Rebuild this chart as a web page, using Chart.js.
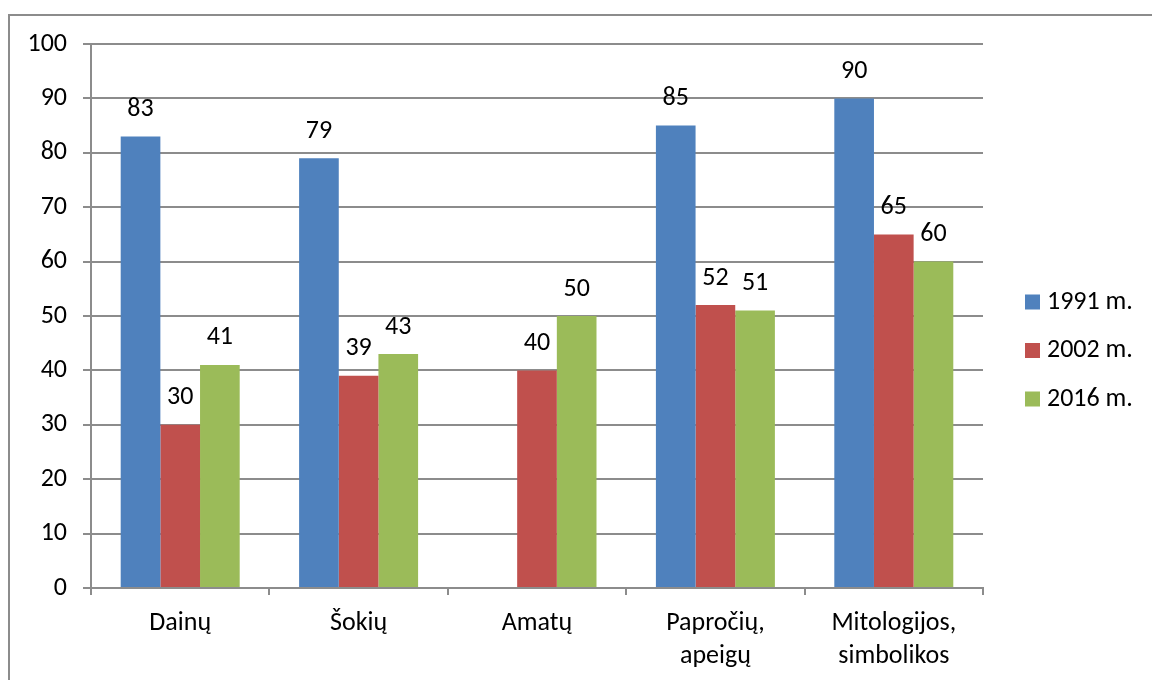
<!DOCTYPE html>
<html>
<head>
<meta charset="utf-8">
<script src="https://cdn.jsdelivr.net/npm/chart.js@4.4.1/dist/chart.umd.min.js"></script>
<style>
  html, body { margin: 0; padding: 0; background: #fff; }
  #wrap { width: 1152px; height: 680px; position: relative; }
</style>
</head>
<body>
<div id="wrap"><canvas id="grafikas"></canvas></div>
<script>
const kategorijos = ['Dainų', 'Šokių', 'Amatų', ['Papročių,', 'apeigų'], ['Mitologijos,', 'simbolikos']];
const metai1991 = [83, 79, null, 85, 90];
const metai2002 = [30, 39, 40, 52, 65];
const metai2016 = [41, 43, 50, 51, 60];
const serijos = ['1991 m.', '2002 m.', '2016 m.'];
const spalvos = ['#4F81BD', '#C0504D', '#9BBB59'];

const SRIFTAS = 'Carlito, "Open Sans", sans-serif';
const DYDIS = 26;

// reikšmės virš stulpelių
const etiketes = {
    id: 'etiketes',
    afterDatasetsDraw(chart) {
        const ctx = chart.ctx;
        ctx.save();
        ctx.font = DYDIS + 'px ' + SRIFTAS;
        ctx.fillStyle = '#000';
        ctx.textAlign = 'center';
        ctx.textBaseline = 'middle';
        chart.data.datasets.forEach((ds, i) => {
            chart.getDatasetMeta(i).data.forEach((bar, j) => {
                if (ds.data[j] == null) return;
                ctx.fillText(ds.data[j], bar.x, bar.y - 27);
            });
        });
        ctx.restore();
    }
};

// rėmelis ir legenda dešinėje
const remelis = {
    id: 'remelis',
    afterDraw(chart) {
        const ctx = chart.ctx;
        ctx.save();
        ctx.strokeStyle = '#8c8c8c';
        ctx.lineWidth = 2;
        ctx.strokeRect(9, 15, 1200, 700);
        ctx.font = DYDIS + 'px ' + SRIFTAS;
        ctx.textBaseline = 'middle';
        ctx.textAlign = 'left';
        serijos.forEach((s, i) => {
            const y = 302 + i * 48.5;
            ctx.fillStyle = spalvos[i];
            ctx.fillRect(1025, y - 7.5, 15, 15);
            ctx.fillStyle = '#000';
            ctx.fillText(s, 1047, y);
        });
        ctx.restore();
    }
};

new Chart(document.getElementById('grafikas'), {
    type: 'bar',
    data: {
        labels: kategorijos,
        datasets: [
            { label: serijos[0], data: metai1991, backgroundColor: spalvos[0] },
            { label: serijos[1], data: metai2002, backgroundColor: spalvos[1] },
            { label: serijos[2], data: metai2016, backgroundColor: spalvos[2] }
        ]
    },
    options: {
        responsive: true,
        maintainAspectRatio: false,
        animation: false,
        categoryPercentage: 0.667,
        barPercentage: 1.0,
        layout: { padding: { left: 0, top: 44, right: 169, bottom: 0 } },
        plugins: { legend: { display: false }, tooltip: { enabled: false } },
        scales: {
            y: {
                min: 0, max: 100,
                ticks: { stepSize: 10, color: '#000', font: { family: SRIFTAS, size: DYDIS }, padding: 16 },
                grid: { color: '#8c8c8c', lineWidth: 2, tickLength: 8 },
                border: { color: '#8c8c8c', width: 2 },
                afterFit(scale) { scale.width = 91; }
            },
            x: {
                ticks: { color: '#000', font: { family: SRIFTAS, size: DYDIS, lineHeight: 1.27 }, padding: 12, maxRotation: 0, autoSkip: false },
                grid: { offset: true, drawOnChartArea: false, color: '#8c8c8c', lineWidth: 2, tickLength: 7 },
                border: { color: '#8c8c8c', width: 2 },
                afterFit(scale) { scale.height = 92; }
            }
        }
    },
    plugins: [etiketes, remelis]
});
</script>
</body>
</html>
